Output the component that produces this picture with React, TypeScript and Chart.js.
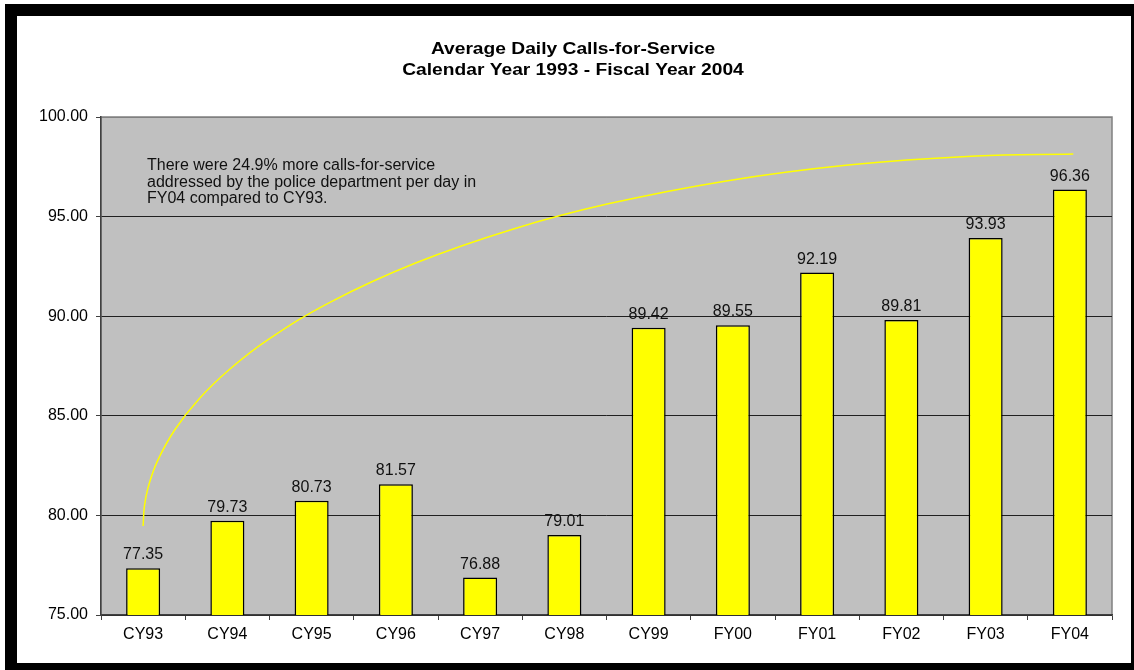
import React, { useEffect, useRef } from "react";
import { Chart, registerables } from "chart.js";

Chart.register(...registerables);

const categories = ["CY93", "CY94", "CY95", "CY96", "CY97", "CY98", "CY99", "FY00", "FY01", "FY02", "FY03", "FY04"];
const callsPerDay = [77.35, 79.73, 80.73, 81.57, 76.88, 79.01, 89.42, 89.55, 92.19, 89.81, 93.93, 96.36];
const yTicks = [75, 80, 85, 90, 95, 100];
const titleLines = ["Average Daily Calls-for-Service", "Calendar Year 1993 - Fiscal Year 2004"];
const noteLines = [
  "There were 24.9% more calls-for-service",
  "addressed by the police department per day in",
  "FY04 compared to CY93.",
];
// hand-drawn trend arc, x in category index units
const arcX = [0, 0.015, 0.06, 0.168, 0.376, 0.666, 1.034, 1.479, 2.223, 3.234, 4.396, 5.52, 6.904, 8.369, 9.886, 11.04];
const arcY = [79.47, 80.45, 81.42, 82.71, 84.3, 85.86, 87.36, 88.81, 90.71, 92.67, 94.38, 95.64, 96.78, 97.59, 98.04, 98.14];

const FONT = '"Liberation Sans", Arial, sans-serif';

export default function App() {
  const ref = useRef<HTMLCanvasElement | null>(null);

  useEffect(() => {
    if (!ref.current) return;

    const bgPlugin = {
      id: "plotBg",
      beforeDraw(chart: any) {
        const { ctx, chartArea: a } = chart;
        ctx.save();
        ctx.fillStyle = "#C0C0C0";
        ctx.fillRect(a.left, a.top, a.right - a.left, a.bottom - a.top);
        ctx.strokeStyle = "#808080";
        ctx.lineWidth = 1.5;
        ctx.strokeRect(a.left, a.top, a.right - a.left, a.bottom - a.top);
        ctx.restore();
      },
    };

    const textPlugin = {
      id: "texts",
      afterDatasetsDraw(chart: any) {
        const { ctx, chartArea: a } = chart;
        ctx.save();
        // data labels
        const meta = chart.getDatasetMeta(0);
        ctx.fillStyle = "#111";
        ctx.font = `16px ${FONT}`;
        ctx.textAlign = "center";
        ctx.textBaseline = "alphabetic";
        meta.data.forEach((el: any, i: number) => {
          ctx.fillText(callsPerDay[i].toFixed(2), el.x, el.y - 9);
        });
        // note
        ctx.textAlign = "left";
        noteLines.forEach((t, i) => {
          ctx.fillText(t, a.left + 46, a.top + 53 + i * 16.5);
        });
        // title
        ctx.font = `bold 16px ${FONT}`;
        ctx.fillStyle = "#000";
        ctx.textAlign = "center";
        titleLines.forEach((t, i) => {
          ctx.save();
          ctx.translate(573, 53.5 + i * 21);
          ctx.scale(1.2, 1);
          ctx.fillText(t, 0, 0);
          ctx.restore();
        });
        ctx.restore();
      },
    };

    const chart = new Chart(ref.current, {
      type: "bar",
      data: {
        labels: categories,
        datasets: [
          {
            type: "bar",
            data: callsPerDay,
            backgroundColor: "#FFFF00",
            borderColor: "#000000",
            borderWidth: 1.5,
            barPercentage: 0.404,
            categoryPercentage: 1,
            grouped: false,
            xAxisID: "x",
            order: 2,
          } as any,
          {
            type: "line",
            data: arcX.map((x, i) => ({ x, y: arcY[i] })),
            borderColor: "#FFFF00",
            borderWidth: 1.5,
            pointRadius: 0,
            fill: false,
            tension: 0.4,
            xAxisID: "x2",
            order: 1,
          } as any,
        ],
      },
      options: {
        responsive: false,
        animation: false,
        layout: { padding: { left: 0, right: 22, top: 117, bottom: 25 } },
        plugins: { legend: { display: false }, tooltip: { enabled: false }, title: { display: false } },
        scales: {
          x: {
            type: "category",
            offset: true,
            grid: {
              offset: true,
              drawOnChartArea: false,
              drawTicks: true,
              tickLength: 5,
              color: "#404040",
            },
            border: { color: "#404040", width: 1.5 },
            ticks: { color: "#000", font: { family: FONT, size: 16 }, padding: 5, maxRotation: 0 },
            afterFit(scale: any) {
              scale.height = 30;
            },
          },
          x2: {
            type: "linear",
            axis: "x",
            display: false,
            offset: false,
            grid: { offset: false },
            min: -0.5,
            max: 11.5,
          },
          y: {
            min: 75,
            max: 100,
            afterBuildTicks(scale: any) {
              scale.ticks = yTicks.map((v) => ({ value: v }));
            },
            grid: {
              color: (c: any) => (c.tick && c.tick.value === 100 ? "#808080" : "#202020"),
              tickLength: 5,
              tickColor: "#404040",
              lineWidth: 1,
            },
            border: { color: "#404040", width: 1.5 },
            ticks: {
              color: "#000",
              font: { family: FONT, size: 16 },
              padding: 8,
              callback: (v: any) => Number(v).toFixed(2),
            },
            afterFit(scale: any) {
              scale.width = 101;
            },
          },
        },
      } as any,
      plugins: [bgPlugin, textPlugin],
    });

    return () => chart.destroy();
  }, []);

  return (
    <div style={{ position: "absolute", left: 0, top: 0, width: 1134, height: 670, background: "#fff", overflow: "hidden" }}>
      <div
        style={{
          position: "absolute",
          left: 5,
          top: 4,
          width: 1129,
          height: 666,
          boxSizing: "border-box",
          borderLeft: "12px solid #000",
          borderTop: "12px solid #000",
          borderRight: "3px solid #000",
          borderBottom: "7px solid #000",
        }}
      />
      <canvas ref={ref} width={1134} height={670} style={{ position: "absolute", left: 0, top: 0, display: "block" }} />
    </div>
  );
}
